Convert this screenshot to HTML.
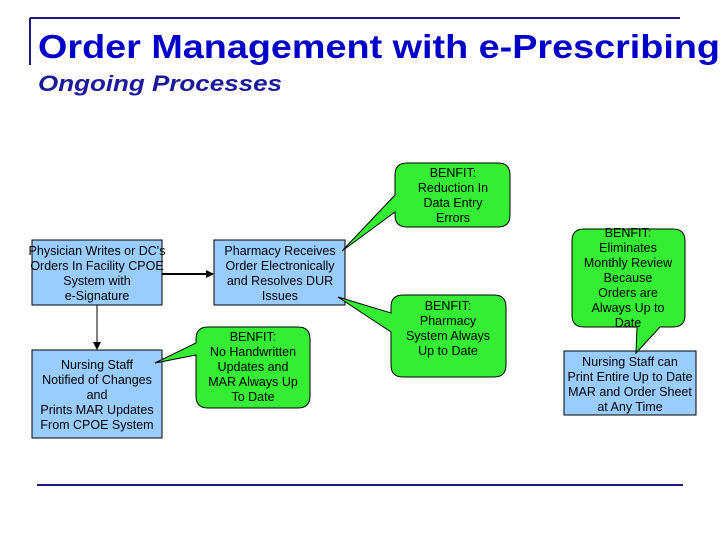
<!DOCTYPE html>
<html><head><meta charset="utf-8"><style>html,body{margin:0;padding:0;background:#fff}svg{display:block}</style></head>
<body>
<svg width="720" height="540" viewBox="0 0 720 540" xmlns="http://www.w3.org/2000/svg" font-family="'Liberation Sans', Arial, sans-serif">
<defs><marker id="ah" markerWidth="8" markerHeight="8" refX="7" refY="4" orient="auto" markerUnits="userSpaceOnUse"><path d="M0,0 L8,4 L0,8 z" fill="#000"/></marker></defs>
<line x1="30" y1="18" x2="680" y2="18" stroke="#1a1a80" stroke-width="2"/>
<line x1="30" y1="18" x2="30" y2="65" stroke="#1a1a80" stroke-width="2"/>
<text x="38" y="58" font-size="33" font-weight="bold" fill="#0000c8" textLength="682" lengthAdjust="spacingAndGlyphs">Order Management with e-Prescribing</text>
<text x="38" y="91" font-size="22" font-weight="bold" font-style="italic" fill="#1a1a9a" textLength="244" lengthAdjust="spacingAndGlyphs">Ongoing Processes</text>
<line x1="37" y1="485" x2="683" y2="485" stroke="#1a1a80" stroke-width="2"/>
<g font-size="12.5" fill="#000" text-anchor="middle">
<!-- arrows -->
<line x1="162" y1="274" x2="213" y2="274" stroke="#000" stroke-width="2" marker-end="url(#ah)"/>
<line x1="97" y1="305" x2="97" y2="349" stroke="#000" stroke-width="1" marker-end="url(#ah)"/>
<!-- boxes -->
<rect x="32" y="240" width="130" height="65" fill="#99ccff" stroke="#000"/>
<text x="97" y="255">Physician Writes or DC's</text><text x="97" y="270">Orders In Facility CPOE</text><text x="97" y="285">System with</text><text x="97" y="300">e-Signature</text>
<rect x="214" y="240" width="131" height="65" fill="#99ccff" stroke="#000"/>
<text x="280" y="255">Pharmacy Receives</text><text x="280" y="270">Order Electronically</text><text x="280" y="285">and Resolves DUR</text><text x="280" y="300">Issues</text>
<rect x="32" y="350" width="130" height="88" fill="#99ccff" stroke="#000"/>
<text x="97" y="369">Nursing Staff</text><text x="97" y="384">Notified of Changes</text><text x="97" y="399">and</text><text x="97" y="414">Prints MAR Updates</text><text x="97" y="429">From CPOE System</text>
<rect x="564" y="351" width="132" height="64" fill="#99ccff" stroke="#000"/>
<text x="630" y="366">Nursing Staff can</text><text x="630" y="381">Print Entire Up to Date</text><text x="630" y="396">MAR and Order Sheet</text><text x="630" y="411">at Any Time</text>
<!-- callouts -->
<g fill="#33ee33" stroke="#000" stroke-width="1">
<path d="M208,327 H298 Q310,327 310,339 V396 Q310,408 298,408 H208 Q196,408 196,396 V355 L155,363 L196,343 V339 Q196,327 208,327 Z"/>
<path d="M407,163 H498 Q510,163 510,175 V215 Q510,227 498,227 H407 Q395,227 395,215 V212 L342,251 L395,195 V175 Q395,163 407,163 Z"/>
<path d="M403,295 H494 Q506,295 506,307 V365 Q506,377 494,377 H403 Q391,377 391,365 V332 L338,297 L391,313 V307 Q391,295 403,295 Z"/>
<path d="M584,229 H673 Q685,229 685,241 V315 Q685,327 673,327 H660 L636,353 L637,327 H584 Q572,327 572,315 V241 Q572,229 584,229 Z"/>
</g>
<text x="253" y="341">BENFIT:</text><text x="253" y="356">No Handwritten</text><text x="253" y="371">Updates and</text><text x="253" y="386">MAR Always Up</text><text x="253" y="401">To Date</text>
<text x="453" y="177">BENFIT:</text><text x="453" y="192">Reduction In</text><text x="453" y="207">Data Entry</text><text x="453" y="222">Errors</text>
<text x="448" y="310">BENFIT:</text><text x="448" y="325">Pharmacy</text><text x="448" y="340">System Always</text><text x="448" y="355">Up to Date</text>
<text x="628" y="237">BENFIT:</text><text x="628" y="252">Eliminates</text><text x="628" y="267">Monthly Review</text><text x="628" y="282">Because</text><text x="628" y="297">Orders are</text><text x="628" y="312">Always Up to</text><text x="628" y="327">Date</text>
</g>
</svg>
</body></html>
